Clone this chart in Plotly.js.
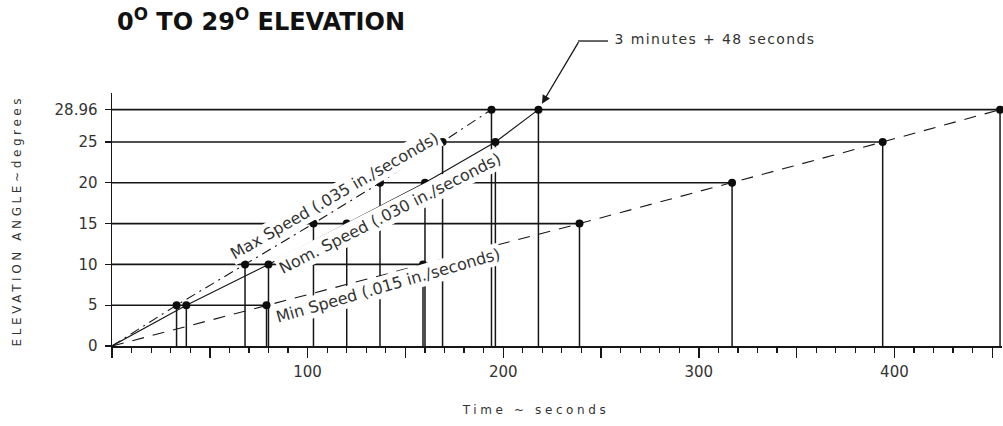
<!DOCTYPE html>
<html>
<head>
<meta charset="utf-8">
<script src="https://cdn.plot.ly/plotly-3.0.1.min.js"></script>
<style>
  html, body { margin: 0; padding: 0; background: #ffffff; }
  #chart { width: 1003px; height: 426px; }
</style>
</head>
<body>
<div id="chart"></div>
<script>
// ---- data ----
const levels = [5, 10, 15, 20, 25, 28.96];          // elevation angle, degrees
const maxTimes = [33, 68, 103, 137, 169, 194];       // Max Speed (.035 in./seconds), seconds
const nomTimes = [38, 80, 120, 160, 196, 218];       // Nom. Speed (.030 in./seconds), seconds
const minTimes = [79, 159, 239, 317, 394, 454];      // Min Speed (.015 in./seconds), seconds
const yTickVals = [0, 5, 10, 15, 20, 25, 28.96];
const yTickText = ['0', '5', '10', '15', '20', '25', '28.96'];
const xTickVals = [0, 50, 100, 150, 200, 250, 300, 350, 400, 450];
const xTickText = ['', '', '100', '', '200', '', '300', '', '400', ''];
const seriesNames = ['Max Speed (.035 in./seconds)', 'Nom. Speed (.030 in./seconds)', 'Min Speed (.015 in./seconds)'];

// ---- build traces ----
const ink = '#161616';
const levelX = [], levelY = [];
levels.forEach((L, i) => { levelX.push(0, minTimes[i], null); levelY.push(L, L, null); });
const dropX = [], dropY = [];
[maxTimes, nomTimes, minTimes].forEach(ts => {
  ts.forEach((t, i) => { dropX.push(t, t, null); dropY.push(0, levels[i], null); });
});

const traces = [
  { x: levelX, y: levelY, mode: 'lines', line: { color: ink, width: 1.6 }, hoverinfo: 'skip', showlegend: false },
  { x: dropX, y: dropY, mode: 'lines', line: { color: ink, width: 1.5 }, hoverinfo: 'skip', showlegend: false },
  { x: [0].concat(maxTimes), y: [0].concat(levels), name: seriesNames[0], mode: 'lines',
    line: { color: ink, width: 1.1, dash: '10px,5px,2px,5px' }, showlegend: false },
  { x: [0].concat(nomTimes), y: [0].concat(levels), name: seriesNames[1], mode: 'lines',
    line: { color: ink, width: 1.1 }, showlegend: false },
  { x: [0].concat(minTimes), y: [0].concat(levels), name: seriesNames[2], mode: 'lines',
    line: { color: ink, width: 1.1, dash: '12px,9px' }, showlegend: false },
  { x: maxTimes.concat(nomTimes, minTimes), y: levels.concat(levels, levels), mode: 'markers',
    marker: { color: '#0d0d0d', size: 8 }, cliponaxis: false, showlegend: false }
];

const labelFont = { family: 'DejaVu Sans', size: 16, color: '#333333' };
const layout = {
  width: 1003, height: 426,
  margin: { l: 112, r: 1, t: 93, b: 80, pad: 0 },
  paper_bgcolor: '#ffffff', plot_bgcolor: '#ffffff',
  showlegend: false,
  title: {
    text: '<b>0<sup>O</sup> TO 29<sup>O</sup> ELEVATION</b>',
    font: { family: 'DejaVu Sans', size: 24, color: '#111111' },
    x: 117 / 1003, xref: 'container', xanchor: 'left',
    y: 1 - 22 / 426, yref: 'container', yanchor: 'middle'
  },
  xaxis: {
    range: [0, 455], showgrid: false, zeroline: false,
    showline: true, linecolor: ink, linewidth: 1.5,
    tickmode: 'array', tickvals: xTickVals, ticktext: xTickText,
    ticks: 'outside', ticklen: 10, tickwidth: 1.4, tickcolor: ink,
    minor: { dtick: 10, ticks: 'outside', ticklen: 5, tickwidth: 1.2, tickcolor: ink },
    tickfont: { family: 'DejaVu Sans', size: 15, color: '#333333' },
    ticklabelstandoff: 1
  },
  yaxis: {
    range: [0, 31], showgrid: false, zeroline: false,
    showline: true, linecolor: ink, linewidth: 1.5,
    tickmode: 'array', tickvals: yTickVals, ticktext: yTickText,
    ticks: 'outside', ticklen: 6, tickwidth: 1.3, tickcolor: ink,
    tickfont: { family: 'DejaVu Sans', size: 15, color: '#333333' },
    ticklabelstandoff: 4
  },
  shapes: [
    { type: 'line', xref: 'paper', yref: 'paper', x0: 0.5236, x1: 0.5573, y0: 1.2055, y1: 1.2055,
      line: { color: ink, width: 1.3 } }
  ],
  annotations: [
    { text: seriesNames[0], x: 114, y: 18.4, xref: 'x', yref: 'y', showarrow: false, textangle: -30,
      xanchor: 'center', yanchor: 'middle', font: labelFont, bgcolor: '#ffffff', borderpad: 1 },
    { text: seriesNames[1], x: 142, y: 16.2, xref: 'x', yref: 'y', showarrow: false, textangle: -27,
      xanchor: 'center', yanchor: 'middle', font: labelFont, bgcolor: '#ffffff', borderpad: 1 },
    { text: seriesNames[2], x: 141, y: 7.4, xref: 'x', yref: 'y', showarrow: false, textangle: -16,
      xanchor: 'center', yanchor: 'middle', font: labelFont, bgcolor: '#ffffff', borderpad: 1 },
    { text: '', x: nomTimes[5], y: levels[5], xref: 'x', yref: 'y', showarrow: true,
      ax: 41, ay: -69, arrowhead: 2, arrowsize: 1.3, arrowwidth: 1.3, arrowcolor: ink, standoff: 7 },
    { text: '3 minutes + 48 seconds', xref: 'paper', yref: 'paper', x: (715 - 112) / 890, y: (346 - 39) / 253,
      xanchor: 'center', yanchor: 'middle',
      showarrow: false, font: { family: 'DejaVu Sans', size: 14, color: '#333333' } },
    { text: 'ELEVATION ANGLE~degrees', xref: 'paper', yref: 'paper', x: (17 - 112) / 890, y: (346 - 221) / 253,
      xanchor: 'center', yanchor: 'middle',
      textangle: -90, showarrow: false, font: { family: 'DejaVu Sans', size: 12, color: '#333333' } },
    { text: 'Time ~ seconds', xref: 'paper', yref: 'paper', x: (535 - 112) / 890, y: (346 - 410) / 253,
      xanchor: 'center', yanchor: 'middle',
      showarrow: false, font: { family: 'DejaVu Sans', size: 12, color: '#333333' } }
  ]
};

const spacing = {
  '3 minutes + 48 seconds': '1.4px',
  'ELEVATION ANGLE~degrees': '3.6px',
  'Time ~ seconds': '3.6px'
};

Plotly.newPlot('chart', traces, layout, { staticPlot: true, displayModeBar: false }).then(() => {
  document.querySelectorAll('.annotation-text').forEach(el => {
    const ls = spacing[el.textContent];
    if (ls) el.style.letterSpacing = ls;
  });
});
</script>
</body>
</html>
